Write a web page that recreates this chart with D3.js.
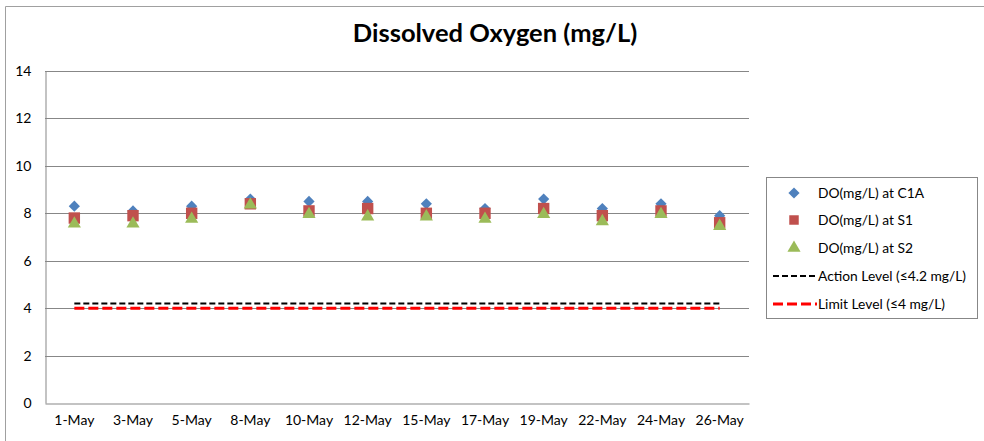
<!DOCTYPE html>
<html>
<head>
<meta charset="utf-8">
<script src="https://cdn.jsdelivr.net/npm/d3@7"></script>
<style>
  body { margin: 0; background: #fff; }
  svg { display: block; font-family: Lato, "Open Sans", sans-serif; }
</style>
</head>
<body>
<svg id="chart" width="984" height="441"></svg>
<script>
const categories = ["1-May","3-May","5-May","8-May","10-May","12-May","15-May","17-May","19-May","22-May","24-May","26-May"];
const doC1A = [8.3, 8.1, 8.3, 8.6, 8.5, 8.5, 8.4, 8.2, 8.6, 8.2, 8.4, 7.9];
const doS1  = [7.8, 7.9, 8.0, 8.4, 8.1, 8.2, 8.0, 8.0, 8.2, 7.9, 8.1, 7.6];
const doS2  = [7.6, 7.6, 7.8, 8.4, 8.0, 7.9, 7.9, 7.8, 8.0, 7.7, 8.0, 7.5];
const actionLevel = categories.map(() => 4.2);
const limitLevel  = categories.map(() => 4);
const yTicks = [0, 2, 4, 6, 8, 10, 12, 14];
const seriesNames = ["DO(mg/L) at C1A", "DO(mg/L) at S1", "DO(mg/L) at S2", "Action Level (\u22644.2 mg/L)", "Limit Level (\u22644 mg/L)"];

const svg = d3.select("#chart");
const plot = {left: 45, right: 749, top: 71, bottom: 403};

// outer chart border (top and left visible)
svg.append("line").attr("x1", 5.5).attr("x2", 984).attr("y1", 6.5).attr("y2", 6.5).attr("stroke", "#a0a0a0");
svg.append("line").attr("x1", 5.5).attr("x2", 5.5).attr("y1", 6.5).attr("y2", 441).attr("stroke", "#a0a0a0");

const x = d3.scaleBand().domain(categories).range([plot.left, plot.right]);
const y = d3.scaleLinear().domain([0, 14]).range([plot.bottom, plot.top]);

// gridlines
svg.append("g").selectAll("line").data(yTicks.filter(d => d > 0)).join("line")
  .attr("x1", plot.left).attr("x2", plot.right)
  .attr("y1", d => Math.round(y(d)) + 0.5).attr("y2", d => Math.round(y(d)) + 0.5)
  .attr("stroke", "#878787");

// y axis
const yAxis = svg.append("g").attr("transform", `translate(${plot.left + 0.5},0)`)
  .call(d3.axisLeft(y).tickValues(yTicks).tickSize(0).tickPadding(14));
yAxis.select(".domain").attr("stroke", "#878787");
yAxis.selectAll("text").attr("font-size", 14).attr("fill", "#000").attr("font-family", "Lato, sans-serif");

// x axis
const xAxis = svg.append("g").attr("transform", `translate(0,${Math.round(plot.bottom) + 0.5})`)
  .call(d3.axisBottom(x).tickSize(0).tickPadding(12));
xAxis.select(".domain").attr("stroke", "#878787");
xAxis.selectAll("text").attr("font-size", 14).attr("fill", "#000").attr("font-family", "Lato, sans-serif");

const cx = d => x(d) + x.bandwidth() / 2;

// reference lines
const lineGen = d3.line().x((d, i) => cx(categories[i])).y(d => y(d));
svg.append("path").datum(limitLevel).attr("d", lineGen)
  .attr("fill", "none").attr("stroke", "#ff0000").attr("stroke-width", 3).attr("stroke-dasharray", "10,4");
svg.append("path").datum(actionLevel).attr("d", lineGen)
  .attr("fill", "none").attr("stroke", "#000").attr("stroke-width", 2).attr("stroke-dasharray", "6,3");

// markers
const symDiamond = d3.symbol().type(d3.symbolDiamond2).size(80);
const symSquare = d3.symbol().type(d3.symbolSquare).size(130);
const symTri = d3.symbol().type(d3.symbolTriangle).size(75);

svg.append("g").selectAll("path").data(doC1A).join("path")
  .attr("transform", (d, i) => `translate(${cx(categories[i])},${y(d)})`)
  .attr("d", symDiamond()).attr("fill", "#4F81BD");
svg.append("g").selectAll("path").data(doS1).join("path")
  .attr("transform", (d, i) => `translate(${cx(categories[i])},${y(d)})`)
  .attr("d", symSquare()).attr("fill", "#C0504D");
svg.append("g").selectAll("path").data(doS2).join("path")
  .attr("transform", (d, i) => `translate(${cx(categories[i])},${y(d) + 1})`)
  .attr("d", symTri()).attr("fill", "#9BBB59");

// title
svg.append("text").attr("x", 495).attr("y", 42).attr("text-anchor", "middle")
  .attr("font-size", 25.5).attr("font-weight", "bold").attr("fill", "#000")
  .text("Dissolved Oxygen (mg/L)");

// legend
const lg = svg.append("g");
lg.append("rect").attr("x", 766.5).attr("y", 177.5).attr("width", 211).attr("height", 141)
  .attr("fill", "#fff").attr("stroke", "#878787");
const legY = [193, 220, 248, 276, 304];
const legendMarkers = [symDiamond(), symSquare.size(90)(), symTri()];
const legendColors = ["#4F81BD", "#C0504D", "#9BBB59"];
for (let i = 0; i < 3; i++) {
  lg.append("path").attr("transform", `translate(794,${legY[i]})`).attr("d", legendMarkers[i]).attr("fill", legendColors[i]);
}
lg.append("line").attr("x1", 773).attr("x2", 817).attr("y1", legY[3]).attr("y2", legY[3])
  .attr("stroke", "#000").attr("stroke-width", 2).attr("stroke-dasharray", "6,3");
lg.append("line").attr("x1", 773).attr("x2", 817).attr("y1", legY[4]).attr("y2", legY[4])
  .attr("stroke", "#ff0000").attr("stroke-width", 3).attr("stroke-dasharray", "10,4");
lg.selectAll("text").data(seriesNames).join("text")
  .attr("x", 818)
  .attr("y", (d, i) => legY[i] + 5)
  .attr("font-size", 13.8).attr("fill", "#000")
  .text(d => d);
</script>
</body>
</html>
